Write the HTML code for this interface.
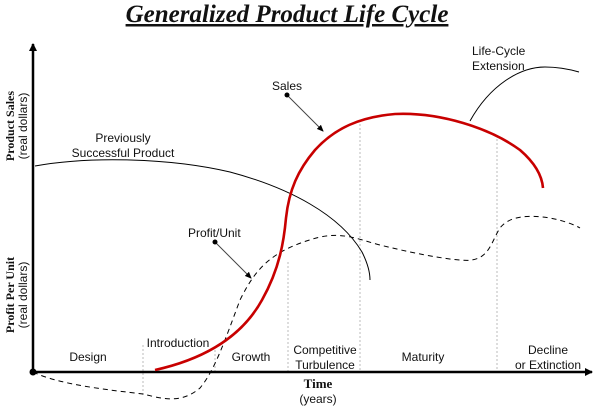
<!DOCTYPE html>
<html><head><style>
body{margin:0;background:#fff;}
svg{display:block;}
text{font-family:"Liberation Sans",sans-serif;font-size:12px;fill:#111;}
.s{font-family:"Liberation Serif",serif;font-weight:bold;}
</style></head><body>
<svg width="600" height="407" viewBox="0 0 600 407">
<defs>
<marker id="ah" markerWidth="8" markerHeight="8" refX="7" refY="4" orient="auto" markerUnits="userSpaceOnUse"><path d="M0,0 L8,4 L0,8 z" fill="#000"/></marker>
<marker id="sa" markerWidth="7" markerHeight="6" refX="6" refY="3" orient="auto" markerUnits="userSpaceOnUse"><path d="M0,0 L7,3 L0,6 z" fill="#000"/></marker>
</defs>
<text x="287" y="22" text-anchor="middle" style="font-family:'Liberation Serif',serif;font-weight:bold;font-style:italic;font-size:25px;text-decoration:underline;">Generalized Product Life Cycle</text>
<g stroke="#bbb" stroke-width="1" stroke-dasharray="2,2">
<line x1="143" y1="345" x2="143" y2="395"/>
<line x1="215" y1="350" x2="215" y2="372"/>
<line x1="288" y1="262" x2="288" y2="372"/>
<line x1="360" y1="120" x2="360" y2="372"/>
<line x1="497" y1="135" x2="497" y2="372"/>
</g>
<line x1="33" y1="372" x2="33" y2="44" stroke="#000" stroke-width="2.5" marker-end="url(#ah)"/>
<line x1="33" y1="372" x2="592" y2="372" stroke="#000" stroke-width="2.5" marker-end="url(#ah)"/>
<circle cx="33" cy="372" r="3.5" fill="#000"/>
<path d="M35,166 C90,156 170,158 230,172 C290,188 340,215 362,252 C368,264 370,272 370,280" fill="none" stroke="#000" stroke-width="1"/>
<path d="M470,121 C490,85 520,67 545,67 C560,67 572,70 579,72" fill="none" stroke="#000" stroke-width="1"/>
<path d="M33,372 C60,385 110,390 143,394 C160,398 180,405 200,388 C215,370 225,340 240,300 C255,270 270,250 320,237 C345,232 360,240 380,245 C420,255 460,262 472,260 C490,257 492,240 500,228 C510,215 530,215 550,218 C565,221 575,225 580,228" fill="none" stroke="#000" stroke-width="1" stroke-dasharray="5,4"/>
<path d="M155,370 C200,360 240,340 262,300 C280,268 284,240 286,218 C289,190 298,170 315,150 C335,128 360,117 395,114 C440,112 490,128 520,150 C535,163 542,175 543,188" fill="none" stroke="#c80000" stroke-width="2.6"/>
<line x1="287" y1="95" x2="323" y2="131" stroke="#444" stroke-width="1" marker-end="url(#sa)"/>
<circle cx="287" cy="95" r="2.5" fill="#000"/>
<line x1="215" y1="242" x2="251" y2="278" stroke="#444" stroke-width="1" marker-end="url(#sa)"/>
<circle cx="215" cy="242" r="2.5" fill="#000"/>
<text x="272" y="90">Sales</text>
<text x="188" y="237">Profit/Unit</text>
<text x="472" y="55">Life-Cycle</text>
<text x="472" y="70">Extension</text>
<text x="123" y="142" text-anchor="middle">Previously</text>
<text x="123" y="157" text-anchor="middle">Successful Product</text>
<text x="88" y="361" text-anchor="middle">Design</text>
<text x="178" y="347" text-anchor="middle">Introduction</text>
<text x="251" y="361" text-anchor="middle">Growth</text>
<text x="325" y="354" text-anchor="middle">Competitive</text>
<text x="325" y="369" text-anchor="middle">Turbulence</text>
<text x="423" y="361" text-anchor="middle">Maturity</text>
<text x="548" y="354" text-anchor="middle">Decline</text>
<text x="548" y="369" text-anchor="middle">or Extinction</text>
<text x="318" y="388" text-anchor="middle" class="s" style="font-size:13px">Time</text>
<text x="318" y="403" text-anchor="middle">(years)</text>
<text transform="translate(14,126) rotate(-90)" text-anchor="middle" class="s">Product Sales</text>
<text transform="translate(27,126) rotate(-90)" text-anchor="middle">(real dollars)</text>
<text transform="translate(14,295) rotate(-90)" text-anchor="middle" class="s">Profit Per Unit</text>
<text transform="translate(27,295) rotate(-90)" text-anchor="middle">(real dollars)</text>
</svg>
</body></html>
